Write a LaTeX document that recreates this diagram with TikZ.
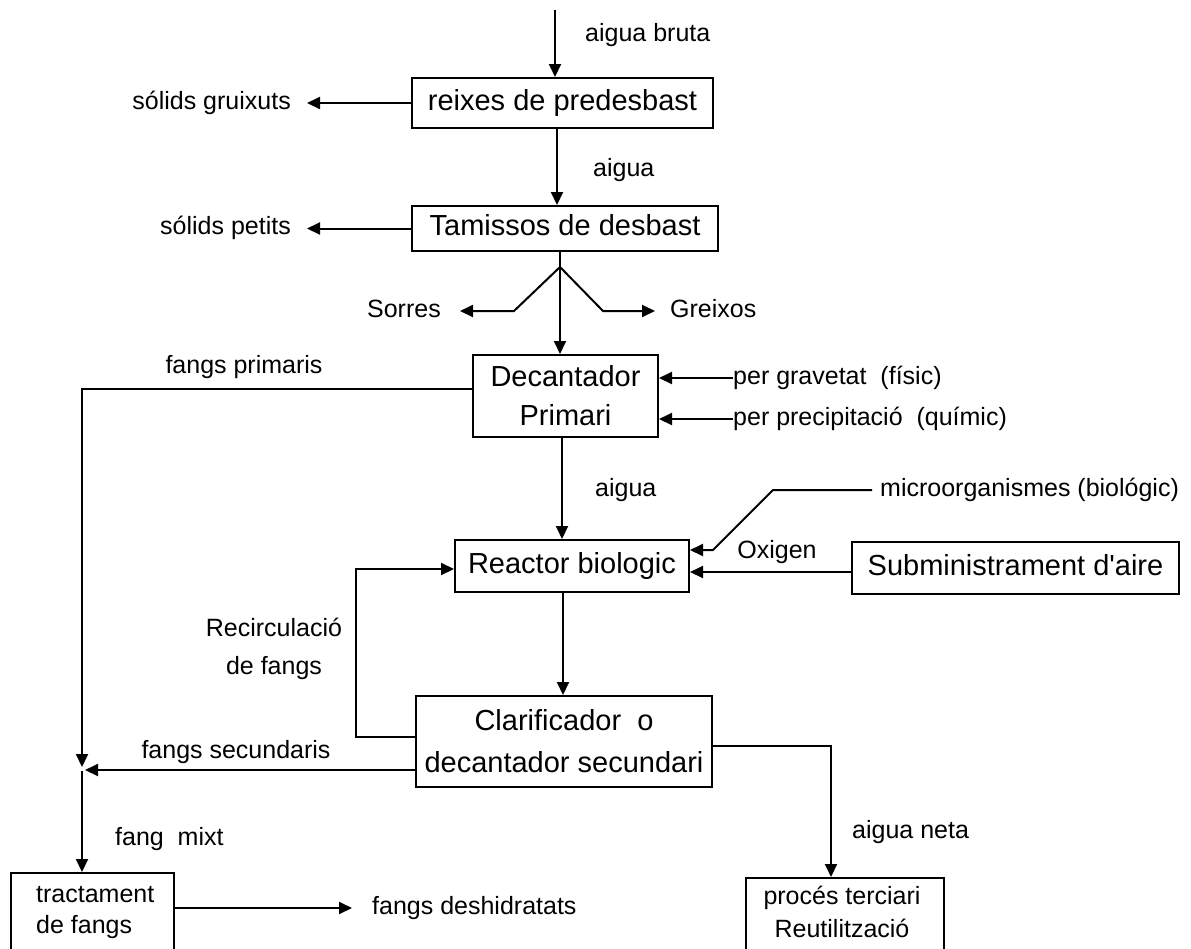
\documentclass[tikz,border=0pt]{standalone}
\usepackage{fontspec}
\newfontfamily\plainarial{Liberation Sans}
\usetikzlibrary{arrows.meta}
\begin{document}
\begin{tikzpicture}[x=1pt,y=-1pt,
  box/.style={draw, line width=2pt, inner sep=0pt, font=\plainarial\fontsize{29}{39}\selectfont, align=center},
  one/.style={text height=21pt, text depth=6.5pt},
  lbl/.style={inner sep=0pt, font=\plainarial\fontsize{25}{30}\selectfont},
  lone/.style={text height=18pt, text depth=5.5pt},
  arr/.style={line width=2pt, -{Triangle[length=13pt,width=12pt]}},
  ln/.style={line width=2pt}]
\useasboundingbox (0,0) rectangle (1191,948);
\clip (0,0) rectangle (1191,948);

% boxes
\node[box, one, minimum width=301, minimum height=50] (b1) at (562.5,103) {reixes de predesbast};
\node[box, one, minimum width=306, minimum height=45] (b2) at (565,228.5) {Tamissos de desbast};
\node[box, minimum width=185, minimum height=82] (b3) at (565.5,396) {Decantador\\Primari};
\node[box, one, minimum width=234, minimum height=52] (b4) at (572,566) {Reactor biologic};
\node[box, one, minimum width=327, minimum height=52] (b5) at (1015.5,568) {Subministrament d'aire};
\node[box, minimum width=296, minimum height=91, font=\plainarial\fontsize{29}{42}\selectfont] (b6) at (564,741.5) {Clarificador\ \ o\\decantador secundari};
\node[box, minimum width=163, minimum height=120, anchor=north] (b7) at (92.5,872) {};
\node[lbl, align=left, font=\plainarial\fontsize{25}{31}\selectfont, anchor=west] (t7) at (36,912.5) {tractament\\de fangs};
\node[box, minimum width=198, minimum height=120, anchor=north] (b8) at (845,877) {};
\node[lbl, align=center, font=\plainarial\fontsize{25}{33}\selectfont] (t8) at (842,911.5) {procés terciari\\Reutilització};

% top input
\coordinate (tin) at (555,10);
\draw[arr] (tin) -- (tin |- b1.north);
\node[lbl, lone, anchor=west] (l1) at (585,35) {aigua bruta};

\node[lbl, lone, anchor=east] (sg) at (291,103) {sólids gruixuts};
\draw[arr] (b1.west) -- ([xshift=16pt]sg.east);

\coordinate (a2) at ([xshift=-5.5pt]b1.south);
\draw[arr] (a2) -- (a2 |- b2.north);
\node[lbl, lone, anchor=west] (l2) at (593,170) {aigua};

\node[lbl, lone, anchor=east] (sp2) at (291,228.5) {sólids petits};
\draw[arr] (b2.west) -- ([xshift=16pt]sp2.east);

% split
\coordinate (s0) at ([xshift=-5pt]b2.south);
\coordinate (sp) at (560,267);
\coordinate (sl) at (514,311);
\coordinate (sr) at (603,311);
\node[lbl, lone, anchor=east] (sor) at (441,311) {Sorres};
\node[lbl, lone, anchor=west] (gre) at (670,311) {Greixos};
\draw[ln] (s0) -- (sp);
\draw[arr] (sp) -- (sp |- b3.north);
\draw[arr] (sp) -- (sl) -- ([xshift=19pt]sor.east);
\draw[arr] (sp) -- (sr) -- ([xshift=-15pt]gre.west);

% decantador inputs
\node[lbl, lone, anchor=west] (pg) at (733,378) {per gravetat\ \ (físic)};
\node[lbl, lone, anchor=west] (pp) at (733,419) {per precipitació\ \ (químic)};
\draw[arr] (pg.west) -- (pg.west -| b3.east);
\draw[arr] (pp.west) -- (pp.west -| b3.east);

% fangs primaris
\coordinate (fp) at ([yshift=7pt]b3.west);
\coordinate (jn) at (82,771);
\coordinate (jt) at (82,767);
\draw[arr] (fp) -- (fp -| jn) -- (jt);
\node[lbl, lone] (lfp) at (244,367) {fangs primaris};

% decantador -> reactor
\coordinate (a4) at ([xshift=-3.5pt]b3.south);
\draw[arr] (a4) -- (a4 |- b4.north);
\node[lbl, lone, anchor=west] (l4) at (595,490) {aigua};

% microorganismes
\node[lbl, lone, anchor=west] (mi) at (880,490) {microorganismes (biológic)};
\coordinate (m1) at (773,490);
\coordinate (m2) at (713,550);
\draw[arr] ([xshift=-8pt]mi.west) -- (m1) -- (m2) -- (m2 -| b4.east);

% oxigen
\coordinate (ox) at ([yshift=-4pt]b5.west);
\draw[arr] (ox) -- (ox -| b4.east);
\node[lbl, lone] (lox) at (777,552) {Oxigen};

% recirculacio
\coordinate (r0) at ([yshift=4.5pt]b6.west);
\coordinate (r1) at (356,569);
\draw[arr] (r0) -- (r0 -| r1) -- (r1) -- (r1 -| b4.west);
\node[lbl, align=center, font=\plainarial\fontsize{25}{38}\selectfont] (lrc) at (274,649) {Recirculació\\de fangs};

% reactor -> clarificador
\coordinate (a6) at ([xshift=-9pt]b4.south);
\draw[arr] (a6) -- (a6 |- b6.north);

% fangs secundaris
\coordinate (fs) at ([yshift=-28.5pt]b6.west);
\coordinate (jn2) at (85,770);
\draw[arr] (fs) -- (fs -| jn2);
\node[lbl, lone] (lfs) at (236,752) {fangs secundaris};

% fang mixt
\draw[arr] (jn) -- (jn |- b7.north);
\node[lbl, lone, anchor=west] (lfm) at (115,839) {fang\ \ mixt};

% aigua neta
\coordinate (an) at ([yshift=-4.5pt]b6.east);
\coordinate (an1) at (831,746);
\draw[arr] (an) -- (an1) -- (an1 |- b8.north);
\node[lbl, lone, anchor=west] (lan) at (852,832) {aigua neta};

% fangs deshidratats
\node[lbl, lone, anchor=west] (fd) at (372,908) {fangs deshidratats};
\draw[arr] (fd.west -| b7.east) -- ([xshift=-20pt]fd.west);
\end{tikzpicture}
\end{document}
